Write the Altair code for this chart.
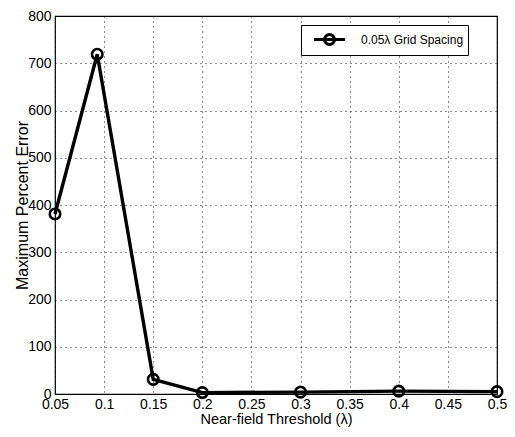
import altair as alt
import pandas as pd

threshold = [0.05, 0.093, 0.15, 0.2, 0.3, 0.4, 0.5]
max_error = [381, 719, 31, 3, 4, 6, 5]
series = ["0.05λ Grid Spacing"] * len(threshold)
x_ticks = [0.05, 0.1, 0.15, 0.2, 0.25, 0.3, 0.35, 0.4, 0.45, 0.5]
y_ticks = [0, 100, 200, 300, 400, 500, 600, 700, 800]

df = pd.DataFrame({"t": threshold, "e": max_error, "s": series})

FONT = "Liberation Sans"
PLOT_W = 442
PLOT_H = 378

x = alt.X("t:Q", scale=alt.Scale(domain=[0.05, 0.5], nice=False, zero=False),
          axis=alt.Axis(values=x_ticks, format=".2~f", title="Near-field Threshold (λ)",
                        grid=True, gridDash=[1, 4], gridColor="#000", gridOpacity=1,
                        gridWidth=0.9, ticks=False, domain=False, labelPadding=3,
                        labelFlush=False, labelOverlap=False,
                        titlePadding=1, titleFontSize=14.5))
y = alt.Y("e:Q", scale=alt.Scale(domain=[0, 800], nice=False),
          axis=alt.Axis(values=y_ticks, title="Maximum Percent Error",
                        grid=True, gridDash=[1, 4], gridColor="#000", gridOpacity=1,
                        gridWidth=0.9, ticks=False, domain=False, labelPadding=4,
                        labelFlush=False, labelOverlap=False,
                        titleFontSize=16, titleX=-33, titleY=PLOT_H / 2,
                        titleBaseline="middle", titleAlign="center"))

legend_symbol = ("M-1.8,0 L1.8,0 M0.58,0 A0.58,0.58 0 1,1 -0.58,0 "
                 "A0.58,0.58 0 1,1 0.58,0")

line = alt.Chart(df).mark_line(strokeWidth=3.4, clip=False).encode(
    x=x, y=y,
    color=alt.Color("s:N", scale=alt.Scale(range=["#000000"]),
                    legend=alt.Legend(title=None, orient="none", legendX=246, legendY=9,
                                      symbolType=legend_symbol, symbolSize=300,
                                      symbolStrokeWidth=3, symbolFillColor="transparent",
                                      strokeColor="#000", fillColor="#fff",
                                      padding=4, labelFontSize=12, labelFont=FONT,
                                      labelColor="#000", symbolOffset=14, labelOffset=21,
                                      cornerRadius=0))
)
points = alt.Chart(df).mark_point(shape="circle", size=110, strokeWidth=2.6,
                                  filled=False, color="#000", opacity=1, clip=False).encode(
    x=x, y=y
)

chart = (line + points).properties(
    width=PLOT_W, height=PLOT_H,
    autosize=alt.AutoSizeParams(type="none"),
    padding={"left": 47, "top": 8, "right": 10, "bottom": 35},
).configure_view(stroke="#000", strokeWidth=1.2).configure_axis(
    labelFont=FONT, titleFont=FONT, labelFontSize=14,
    labelColor="#000", titleColor="#000", titleFontWeight="normal"
)

chart.save("out.html", embed_options={"renderer": "svg", "actions": False})
